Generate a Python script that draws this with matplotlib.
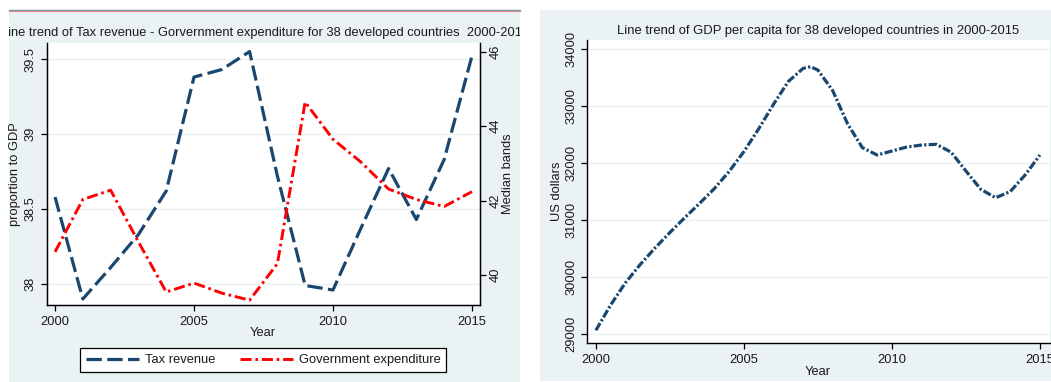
import matplotlib
matplotlib.use('Agg')
import matplotlib.pyplot as plt
from matplotlib.patches import Rectangle
from matplotlib.lines import Line2D
from matplotlib.transforms import Bbox

# ---------------- data ----------------
years = [2000, 2001, 2002, 2003, 2004, 2005, 2006, 2007,
         2008, 2009, 2010, 2011, 2012, 2013, 2014, 2015]
tax_revenue = [38.58, 37.90, 38.11, 38.33, 38.62, 39.38, 39.43, 39.55,
               38.72, 37.99, 37.96, 38.37, 38.77, 38.43, 38.83, 39.52]
gov_expenditure = [40.62, 42.03, 42.28, 40.89, 39.54, 39.78, 39.51, 39.32,
                   40.30, 44.65, 43.65, 43.04, 42.31, 42.03, 41.84, 42.24]

gdp_years = [2000.0, 2000.5, 2001.0, 2001.5, 2002.0, 2002.5, 2003.0, 2003.5,
             2004.0, 2004.5, 2005.0, 2005.5, 2006.0, 2006.5, 2007.0, 2007.25,
             2007.5, 2008.0, 2008.5, 2009.0, 2009.5, 2010.0, 2010.5, 2011.0,
             2011.5, 2012.0, 2012.5, 2013.0, 2013.5, 2014.0, 2014.5, 2015.0]
gdp_per_capita = [29065, 29510, 29900, 30220, 30510, 30780, 31040, 31290,
                  31550, 31850, 32200, 32600, 33030, 33430, 33660, 33690,
                  33630, 33270, 32690, 32270, 32140, 32210, 32280, 32315,
                  32328, 32190, 31860, 31540, 31390, 31500, 31790, 32140]

left_yticks = [38, 38.5, 39, 39.5]
left_yticklabels = ["38", "38.5", "39", "39.5"]
right_yticks = [40, 42, 44, 46]
x_ticks = [2000, 2005, 2010, 2015]
gdp_yticks = [29000, 30000, 31000, 32000, 33000, 34000]

# ---------------- styling ----------------
W, H = 1051, 382
BG = '#EAF2F3'
NAVY = '#1A476F'
RED = '#FF0000'
GRID = '#EAF2F3'
TXT = '#1a1a1a'
FONT = 'Liberation Sans'
FS = 9.3
plt.rcParams['font.family'] = [FONT, 'DejaVu Sans']

fig = plt.figure(figsize=(W / 100, H / 100), dpi=100)
fig.patch.set_facecolor('white')


def fx(px):
    return px / W


def fy(py):
    return 1 - py / H


# panel backgrounds
fig.patches.append(Rectangle((fx(9), fy(382)), fx(520) - fx(9), fy(11.5) - fy(382),
                             transform=fig.transFigure, facecolor=BG, edgecolor='none', zorder=-10))
fig.patches.append(Rectangle((fx(540), fy(381)), fx(1051) - fx(540), fy(10) - fy(381),
                             transform=fig.transFigure, facecolor=BG, edgecolor='none', zorder=-10))
# thin coloured rule on top of left panel
fig.lines.append(Line2D([fx(9), fx(520)], [fy(10.3), fy(10.3)], transform=fig.transFigure,
                        color='#6a8fb5', lw=0.9, zorder=-5))
fig.lines.append(Line2D([fx(9), fx(520)], [fy(11.2), fy(11.2)], transform=fig.transFigure,
                        color='#e88a80', lw=0.8, zorder=-5))


def style_axes(ax):
    ax.set_facecolor('white')
    ax.spines['top'].set_visible(False)
    for s in ['left', 'bottom', 'right']:
        ax.spines[s].set_color('black')
        ax.spines[s].set_linewidth(1.0)
    ax.tick_params(axis='both', direction='out', length=4.5, width=0.9,
                   colors='black', labelsize=FS, labelcolor=TXT)
    ax.tick_params(axis='y', pad=2.5)
    ax.grid(axis='y', color=GRID, lw=1.0)
    ax.set_axisbelow(True)


def set_label_px(axis_obj, ax, px, py):
    """place an axis label at pixel coords of the figure"""
    inv = ax.transAxes.inverted()
    fig.canvas.draw()
    x, y = inv.transform(fig.transFigure.transform((fx(px), fy(py))))
    axis_obj.set_label_coords(x, y)


# ---------------- left chart ----------------
axL = fig.add_axes([fx(46.7), fy(305), fx(480) - fx(46.7), fy(43) - fy(305)])
style_axes(axL)
axL.spines['right'].set_visible(True)
lt, = axL.plot(years, tax_revenue, color=NAVY, lw=2.3, dashes=(4.8, 1.7),
               solid_capstyle='butt', dash_capstyle='butt', label='Tax revenue')
axL.set_xlim(1999.70, 2015.29)
axL.set_ylim(37.86, 39.607)
axL.set_yticks(left_yticks)
axL.set_yticklabels(left_yticklabels, rotation=90, va='center')
axL.set_xticks(x_ticks)
axL.set_xlabel('Year', fontsize=FS, color=TXT)
axL.set_ylabel('proportion to GDP', fontsize=FS, color=TXT)

axR = axL.twinx()
axR.spines['top'].set_visible(False)
axR.spines['right'].set_color('black')
axR.tick_params(axis='y', direction='out', length=4.5, width=0.9, colors='black',
                labelsize=FS, labelcolor=TXT, pad=2.5)
lg, = axR.plot(years, gov_expenditure, color=RED, lw=2.1, dashes=(3.8, 1.3, 0.9, 1.3),
               dash_capstyle='butt', label='Government expenditure')
axR.set_ylim(39.19, 46.24)
axR.set_yticks(right_yticks)
axR.set_yticklabels([str(v) for v in right_yticks], rotation=90, va='center')
axR.set_ylabel('Median bands', fontsize=FS, color=TXT)

leg = fig.legend(handles=[lt, lg], loc='center',
                 bbox_to_anchor=(fx(263), fy(360)), ncol=2, frameon=True,
                 fancybox=False, edgecolor='black', facecolor='white', framealpha=1,
                 fontsize=FS, handlelength=4.1, handletextpad=0.47, columnspacing=1.9,
                 borderpad=0.45, borderaxespad=0)
leg.get_frame().set_linewidth(0.9)
for t in leg.get_texts():
    t.set_color(TXT)

clip = Bbox.from_extents(9, 0, 520, H)
t1 = fig.text(fx(265), fy(33), 'Line trend of Tax revenue - Gorvernment expenditure for 38 developed countries  2000-2015',
              ha='center', va='center', fontsize=9.3, color=TXT)
t1.set_clip_box(clip)
t1.set_clip_on(True)

# ---------------- right chart ----------------
ax2 = fig.add_axes([fx(587), fy(343), fx(1050) - fx(587), fy(40) - fy(343)])
style_axes(ax2)
ax2.spines['right'].set_visible(False)
ax2.plot(gdp_years, gdp_per_capita, color=NAVY, lw=2.3, dashes=(2.6, 0.7, 0.7, 0.7),
         dash_capstyle='butt')
ax2.set_xlim(1999.70, 2015.34)
ax2.set_ylim(28842, 34158)
ax2.set_yticks(gdp_yticks)
ax2.set_yticklabels([str(v) for v in gdp_yticks], rotation=90, va='center')
ax2.set_xticks(x_ticks)
ax2.set_xlabel('Year', fontsize=FS, color=TXT)
ax2.set_ylabel('US dollars', fontsize=FS, color=TXT)
fig.text(fx(818.5), fy(31), 'Line trend of GDP per capita for 38 developed countries in 2000-2015',
         ha='center', va='center', fontsize=9.4, color=TXT)

# axis-title positions (pixels)
set_label_px(axL.yaxis, axL, 15, 174)
set_label_px(axR.yaxis, axR, 508, 174)
set_label_px(axL.xaxis, axL, 263, 333)
set_label_px(ax2.yaxis, ax2, 557, 191)
set_label_px(ax2.xaxis, ax2, 818, 372)
for lab in [axL.yaxis.label, axR.yaxis.label, ax2.yaxis.label]:
    lab.set_va('center')
for lab in [axL.xaxis.label, ax2.xaxis.label]:
    lab.set_va('center')

fig.savefig('out.png', dpi=100)
